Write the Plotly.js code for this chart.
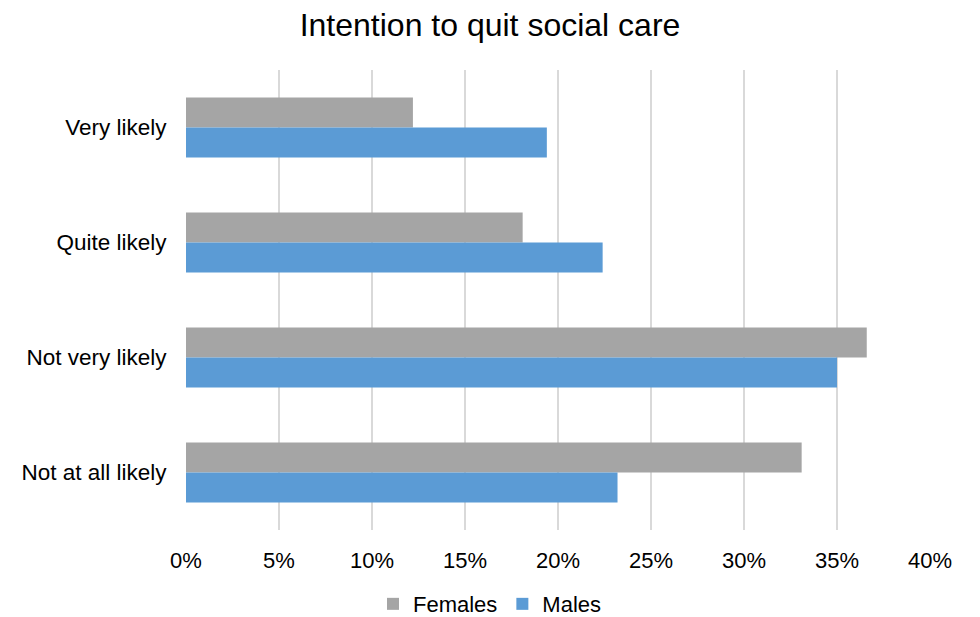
<!DOCTYPE html>
<html>
<head>
<meta charset="utf-8">
<script src="https://cdn.plot.ly/plotly-3.0.1.min.js"></script>
<style>html,body{margin:0;padding:0;background:#fff;}#chart{width:980px;height:617px;}</style>
</head>
<body>
<div id="chart"></div>
<script>
// Survey responses: share of workers by how likely they are to leave social care
const categories = ['Very likely', 'Quite likely', 'Not very likely', 'Not at all likely'];
const females = [0.122, 0.181, 0.366, 0.331];
const males = [0.194, 0.224, 0.350, 0.232];
const tickValues = [0, 0.05, 0.10, 0.15, 0.20, 0.25, 0.30, 0.35, 0.40];
const tickLabels = ['0%', '5%', '10%', '15%', '20%', '25%', '30%', '35%', '40%'];

const font = {family: 'Liberation Sans, Arial, sans-serif', color: '#000'};

const traces = [
  {type: 'bar', orientation: 'h', name: 'Females', y: categories, x: females,
   marker: {color: '#A5A5A5'}, hoverinfo: 'x+y'},
  {type: 'bar', orientation: 'h', name: 'Males', y: categories, x: males,
   marker: {color: '#5B9BD5'}, hoverinfo: 'x+y'}
];

const layout = {
  width: 980, height: 617,
  margin: {l: 186, r: 50, t: 70, b: 87},
  paper_bgcolor: '#fff', plot_bgcolor: '#fff',
  font: Object.assign({size: 22}, font),
  title: {text: 'Intention to quit social care', x: 0.5, xref: 'container',
          y: 0.96, yref: 'container', yanchor: 'middle',
          font: Object.assign({}, font, {size: 32})},
  barmode: 'group', bargap: 0.48, bargroupgap: 0,
  xaxis: {range: [0, 0.40], tickvals: tickValues, ticktext: tickLabels,
          showgrid: true, gridcolor: '#D9D9D9', gridwidth: 1.5,
          zeroline: false, showline: false,
          ticks: 'outside', ticklen: 11, tickcolor: 'rgba(0,0,0,0)',
          tickfont: Object.assign({}, font, {size: 22})},
  yaxis: {type: 'category', categoryorder: 'array', categoryarray: categories,
          autorange: 'reversed', showgrid: false, zeroline: false, showline: false,
          ticks: 'outside', ticklen: 14, tickcolor: 'rgba(0,0,0,0)',
          tickfont: Object.assign({}, font, {size: 22.5})},
  showlegend: true,
  legend: {orientation: 'h', x: 0.5, xref: 'container', xanchor: 'center',
           y: 0.021, yref: 'container', yanchor: 'middle',
           font: Object.assign({}, font, {size: 22}), itemwidth: 30,
           tracegroupgap: 0}
};

Plotly.newPlot('chart', traces, layout, {displayModeBar: false, staticPlot: true});
</script>
</body>
</html>
